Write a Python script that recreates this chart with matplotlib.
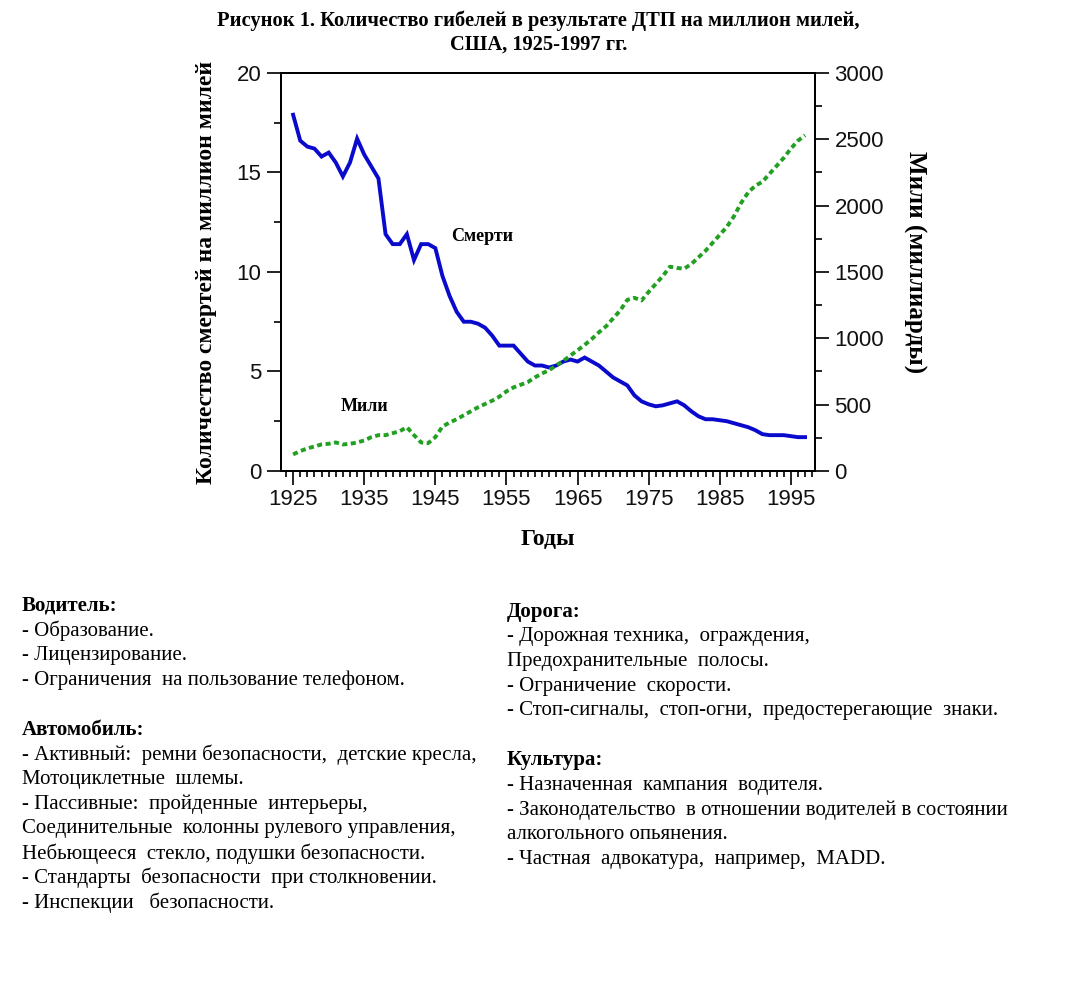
import matplotlib
matplotlib.use("Agg")
import matplotlib.pyplot as plt
from matplotlib.ticker import MultipleLocator
import numpy as np

# ---- data ----
years = np.arange(1925, 1998)

deaths = [17.9, 16.6, 16.3, 16.2, 15.8, 16.0, 15.5, 14.8, 15.5, 16.7,
          15.9, 15.3, 14.7, 11.9, 11.4, 11.4, 11.9, 10.6, 11.4, 11.4,
          11.2, 9.8, 8.8, 8.0, 7.5, 7.5, 7.4, 7.2, 6.8, 6.3,
          6.3, 6.3, 5.9, 5.5, 5.3, 5.3, 5.2, 5.3, 5.5, 5.6,
          5.5, 5.7, 5.5, 5.3, 5.0, 4.7, 4.5, 4.3, 3.8, 3.5,
          3.35, 3.25, 3.3, 3.4, 3.5, 3.3, 3.0, 2.75, 2.6, 2.6,
          2.55, 2.5, 2.4, 2.3, 2.2, 2.05, 1.85, 1.8, 1.8, 1.8,
          1.75, 1.7, 1.7]

miles = [125, 150, 170, 185, 200, 205, 215, 200, 205, 215,
         230, 255, 270, 270, 285, 300, 330, 270, 215, 210,
         255, 335, 365, 390, 420, 450, 480, 505, 530, 560,
         600, 630, 650, 670, 705, 735, 760, 795, 830, 870,
         910, 950, 995, 1045, 1090, 1150, 1210, 1290, 1305, 1285,
         1350, 1410, 1470, 1540, 1530, 1525, 1560, 1610, 1660, 1720,
         1780, 1840, 1920, 2020, 2100, 2150, 2180, 2240, 2300, 2360,
         2430, 2490, 2530]

xticks = [1925, 1935, 1945, 1955, 1965, 1975, 1985, 1995]

title = "Рисунок 1. Количество гибелей в результате ДТП на миллион милей,\nСША, 1925-1997 гг."

left_lines = ["Водитель:", "- Образование.", "- Лицензирование.",
              "- Ограничения  на пользование телефоном.", "",
              "Автомобиль:", "- Активный:  ремни безопасности,  детские кресла,",
              "Мотоциклетные  шлемы.", "- Пассивные:  пройденные  интерьеры,",
              "Соединительные  колонны рулевого управления,",
              "Небьющееся  стекло, подушки безопасности.",
              "- Стандарты  безопасности  при столкновении.",
              "- Инспекции   безопасности."]
left_bold = ["Водитель:", "Автомобиль:"]

right_lines = ["Дорога:", "- Дорожная техника,  ограждения,",
               "Предохранительные  полосы.", "- Ограничение  скорости.",
               "- Стоп-сигналы,  стоп-огни,  предостерегающие  знаки.", "",
               "Культура:", "- Назначенная  кампания  водителя.",
               "- Законодательство  в отношении водителей в состоянии",
               "алкогольного опьянения.", "- Частная  адвокатура,  например,  MADD."]
right_bold = ["Дорога:", "Культура:"]

serif = "Liberation Serif"
sans = "Liberation Sans"

fig = plt.figure(figsize=(10.71, 9.93), dpi=100)
ax = fig.add_axes([0.2624, 0.5257, 0.4986, 0.4008])
ax2 = ax.twinx()

ax.plot(years, deaths, color='#0A0ACD', lw=2.8, solid_joinstyle='miter')
ax2.plot(years, miles, color='#22A022', lw=2.8, linestyle=(0, (1.3, 0.9)))

ax.set_xlim(1923.3, 1998.4)
ax.set_ylim(0, 20)
ax2.set_ylim(0, 3000)

ax.set_xticks(xticks)
ax.xaxis.set_minor_locator(MultipleLocator(1))
ax.set_yticks([0, 5, 10, 15, 20])
ax.yaxis.set_minor_locator(MultipleLocator(2.5))
ax2.set_yticks([0, 500, 1000, 1500, 2000, 2500, 3000])
ax2.yaxis.set_minor_locator(MultipleLocator(250))

for a in (ax, ax2):
    for s in a.spines.values():
        s.set_linewidth(1.4)
    a.tick_params(which='major', direction='out', length=10, width=1.3,
                  labelsize=16, pad=4, colors='#111111')
    a.tick_params(which='minor', direction='out', length=5, width=1.2)
    for lab in a.get_xticklabels() + a.get_yticklabels():
        lab.set_family(sans)
ax.tick_params(axis='x', which='major', pad=3, length=10)
ax.tick_params(axis='x', which='minor', length=4)

ax.set_xlabel("Годы", family=serif, weight='bold', fontsize=17, labelpad=14)
ax.set_ylabel("Количество смертей на миллион милей", family=serif,
              weight='bold', fontsize=17, labelpad=14)
ax2.set_ylabel("Мили (миллиарды)", family=serif, weight='bold', fontsize=18,
               rotation=-90, va='center')
ax2.yaxis.set_label_coords(1.187, 0.525)

ax.text(1951.6, 11.8, "Смерти", family=serif, weight='bold', fontsize=13,
        ha='center', va='center')
ax.text(1935.0, 3.25, "Мили", family=serif, weight='bold', fontsize=13,
        ha='center', va='center')

fig.text(0.503, 0.989, title, family=serif, weight='bold', fontsize=14.8,
         ha='center', va='top', linespacing=1.22)

step = 24.75 / 993
y0 = 1 - 606 / 993
for i, line in enumerate(left_lines):
    fig.text(22 / 1071, y0 - i * step, line, family=serif, fontsize=15,
             weight='bold' if line in left_bold else 'normal', va='center')
y0 = 1 - 612 / 993
for i, line in enumerate(right_lines):
    fig.text(507 / 1071, y0 - i * step, line, family=serif, fontsize=15,
             weight='bold' if line in right_bold else 'normal', va='center')

fig.savefig("out.png", dpi=100)
